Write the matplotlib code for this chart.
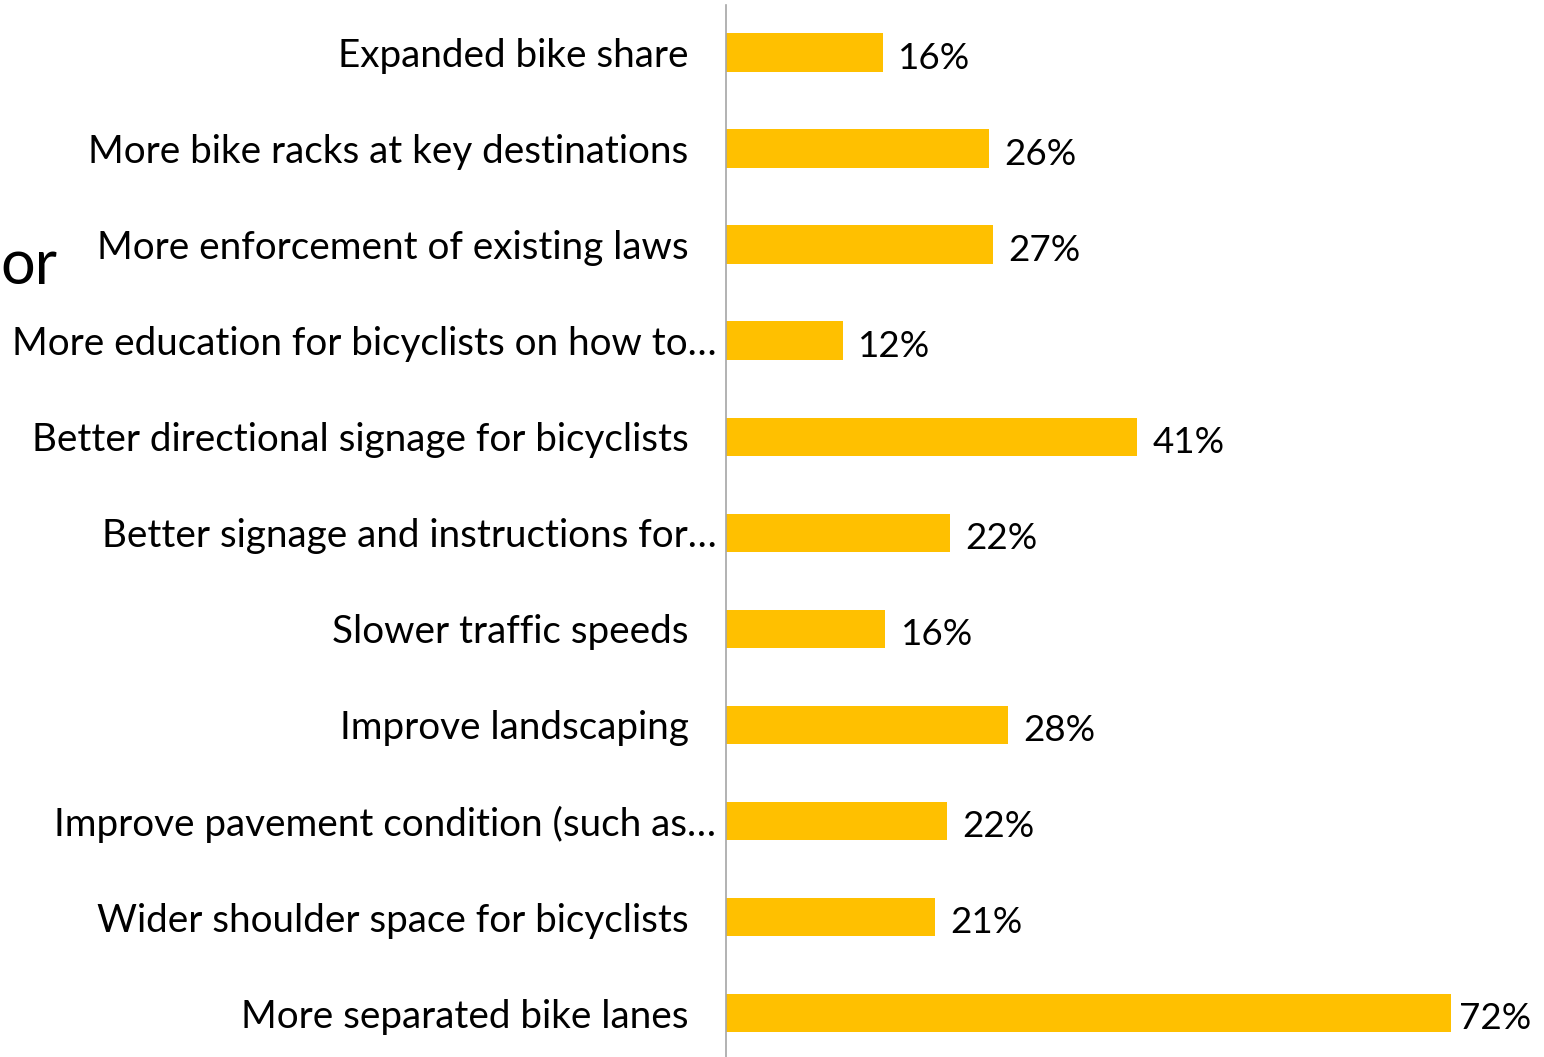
import matplotlib
matplotlib.use("Agg")
import matplotlib.pyplot as plt

categories = [
    "Expanded bike share",
    "More bike racks at key destinations",
    "More enforcement of existing laws",
    "More education for bicyclists on how to…",
    "Better directional signage for bicyclists",
    "Better signage and instructions for…",
    "Slower traffic speeds",
    "Improve landscaping",
    "Improve pavement condition (such as…",
    "Wider shoulder space for bicyclists",
    "More separated bike lanes",
]
values = [15.6, 26.1, 26.5, 11.6, 40.8, 22.2, 15.8, 28.0, 21.9, 20.7, 72.0]
value_labels = ["16%", "26%", "27%", "12%", "41%", "22%", "16%", "28%", "22%", "21%", "72%"]

FONT = "Lato"
plt.rcParams["font.family"] = [FONT, "DejaVu Sans"]

W, H = 1544, 1057
fig = plt.figure(figsize=(W / 100, H / 100), dpi=100)
ax = fig.add_axes([726 / W, -4.1 / H, 806 / W, 1056.6 / H])

y = list(range(len(categories)))
ax.barh(y, values, height=0.4, color="#FFC000", edgecolor="none")
ax.set_ylim(len(categories) - 0.5, -0.5)
ax.set_xlim(0, 80)

ax.set_yticks(y)
ax.set_yticklabels(categories, fontsize=27.8)
ax.tick_params(axis="y", length=0)
for i, t in enumerate(ax.yaxis.get_major_ticks()):
    t.set_pad(7 if categories[i].endswith("…") else 27)
ax.set_xticks([])

for s in ["top", "right", "bottom"]:
    ax.spines[s].set_visible(False)
ax.spines["left"].set_color("#A6A6A6")
ax.spines["left"].set_linewidth(1.2)

label_right_edge = 1528  # pixel limit for value labels
for yi, v, lab in zip(y, values, value_labels):
    dx = 11 if v < 70 else 5.5
    ax.annotate(lab, xy=(v, yi), xytext=(dx, -4), textcoords="offset points",
                va="center", ha="left", fontsize=26.5)

fig.text(0, 1 - 267 / H, "or", fontsize=44, va="center", ha="left")

fig.savefig("out.png", dpi=100)
